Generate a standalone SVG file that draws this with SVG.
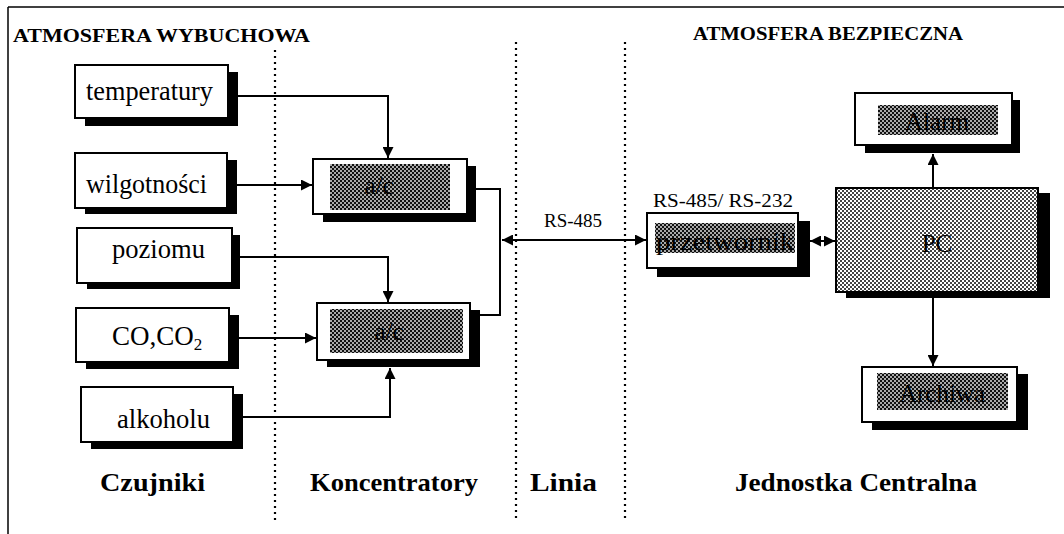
<svg xmlns="http://www.w3.org/2000/svg" width="1064" height="534" viewBox="0 0 1064 534">
<style>
.box{fill:#fff;stroke:#000;stroke-width:2}
.sh{fill:#000}
.lbl{font-family:"Liberation Serif","Times New Roman",serif;font-size:27px;fill:#000}
.hl{font-family:"Liberation Serif","Times New Roman",serif;font-size:25px;fill:#000;text-anchor:middle}
.ttl{font-family:"Liberation Serif","Times New Roman",serif;font-weight:bold;font-size:19px;fill:#000}
.sec{font-family:"Liberation Serif","Times New Roman",serif;font-weight:bold;font-size:25px;fill:#000}
.sm{font-family:"Liberation Serif","Times New Roman",serif;font-size:19px;fill:#000}
.con{fill:none;stroke:#000;stroke-width:2}
.dot{stroke:#000;stroke-width:2.2;stroke-dasharray:2 4}
</style>
<defs>
<pattern id="hd" width="4" height="4" patternUnits="userSpaceOnUse">
<rect width="4" height="4" fill="#aaa"/>
<rect width="2" height="2" fill="#111"/>
<rect x="2" y="2" width="2" height="2" fill="#111"/>
</pattern>
<pattern id="hl" width="4" height="4" patternUnits="userSpaceOnUse">
<rect width="4" height="4" fill="#fff"/>
<rect width="2" height="2" fill="#444"/>
<rect x="2" y="2" width="2" height="2" fill="#444"/>
</pattern>
<marker id="ah" viewBox="0 0 10 10" refX="10" refY="5" markerWidth="11" markerHeight="11" markerUnits="userSpaceOnUse" orient="auto-start-reverse">
<path d="M0,0 L10,5 L0,10 Z" fill="#000"/>
</marker>
</defs>

<g id="frame">
<line x1="8" y1="7" x2="1064" y2="7" stroke="#000" stroke-width="1.5"/>
<line x1="8" y1="7" x2="8" y2="534" stroke="#000" stroke-width="1.5"/>
</g>

<g id="dividers">
<line class="dot" x1="275" y1="50" x2="275" y2="520"/>
<line class="dot" x1="516" y1="42" x2="516" y2="520"/>
<line class="dot" x1="625" y1="42" x2="625" y2="520"/>
</g>

<g id="titles">
<text class="ttl" x="13" y="42" textLength="297" lengthAdjust="spacingAndGlyphs">ATMOSFERA  WYBUCHOWA</text>
<text class="ttl" x="693" y="40" textLength="270" lengthAdjust="spacingAndGlyphs">ATMOSFERA  BEZPIECZNA</text>
<text class="sec" x="100" y="491" textLength="105" lengthAdjust="spacingAndGlyphs">Czujniki</text>
<text class="sec" x="310" y="491" textLength="168" lengthAdjust="spacingAndGlyphs">Koncentratory</text>
<text class="sec" x="530" y="491" textLength="67" lengthAdjust="spacingAndGlyphs">Linia</text>
<text class="sec" x="735" y="491" textLength="242" lengthAdjust="spacingAndGlyphs">Jednostka  Centralna</text>
</g>

<g id="temperatury">
<rect class="sh" x="85" y="72" width="153" height="54"/>
<rect class="box" x="75" y="65" width="153" height="53"/>
<text class="lbl" x="86" y="100" textLength="127" lengthAdjust="spacingAndGlyphs">temperatury</text>
</g>
<g id="wilgotnosci">
<rect class="sh" x="85" y="160" width="152" height="54"/>
<rect class="box" x="75" y="153" width="152" height="55"/>
<text class="lbl" x="86" y="193" textLength="121" lengthAdjust="spacingAndGlyphs">wilgotności</text>
</g>
<g id="poziomu">
<rect class="sh" x="87" y="235" width="153" height="54"/>
<rect class="box" x="77" y="228" width="155" height="55"/>
<text class="lbl" x="112" y="258" textLength="93" lengthAdjust="spacingAndGlyphs">poziomu</text>
</g>
<g id="co">
<rect class="sh" x="86" y="315" width="153" height="54"/>
<rect class="box" x="76" y="308" width="153" height="54"/>
<text class="lbl" x="112" y="345">CO,CO<tspan font-size="17" dy="5">2</tspan></text>
</g>
<g id="alkoholu">
<rect class="sh" x="91" y="394" width="152" height="55"/>
<rect class="box" x="81" y="387" width="152" height="55"/>
<text class="lbl" x="117" y="428" textLength="93" lengthAdjust="spacingAndGlyphs">alkoholu</text>
</g>

<g id="ac1">
<rect class="sh" x="323" y="166" width="153" height="56"/>
<rect class="box" x="313" y="159" width="154" height="55"/>
<rect x="330" y="164" width="120" height="46" fill="url(#hd)"/>
<text class="hl" x="379" y="194">a/c</text>
</g>
<g id="ac2">
<rect class="sh" x="327" y="310" width="153" height="57"/>
<rect class="box" x="317" y="303" width="153" height="57"/>
<rect x="330" y="309" width="133" height="44" fill="url(#hd)"/>
<text class="hl" x="389" y="340">a/c</text>
</g>

<g id="przetwornik">
<text class="sm" x="653" y="207" textLength="140" lengthAdjust="spacingAndGlyphs">RS-485/ RS-232</text>
<rect class="sh" x="657" y="221" width="153" height="56"/>
<rect class="box" x="647" y="213" width="151" height="55"/>
<rect x="655" y="223" width="140" height="30" fill="url(#hd)"/>
<text class="hl" x="725" y="250" textLength="138" lengthAdjust="spacingAndGlyphs">przetwornik</text>
</g>

<g id="alarm">
<rect class="sh" x="865" y="100" width="155" height="53"/>
<rect class="box" x="855" y="93" width="157" height="52"/>
<rect x="878" y="105" width="120" height="30" fill="url(#hd)"/>
<text class="hl" x="937" y="130">Alarm</text>
</g>

<g id="pc">
<rect class="sh" x="846" y="193" width="204" height="105"/>
<rect x="836" y="188" width="202" height="104" fill="url(#hl)" stroke="#000" stroke-width="2"/>
<text class="hl" x="937" y="252" font-size="28">PC</text>
</g>

<g id="archiwa">
<rect class="sh" x="872" y="374" width="156" height="56"/>
<rect class="box" x="862" y="367" width="155" height="55"/>
<rect x="877" y="373" width="131" height="37" fill="url(#hd)"/>
<text class="hl" x="942" y="402">Archiwa</text>
</g>

<g id="connectors">
<path class="con" d="M238,96 H388 V158" marker-end="url(#ah)"/>
<path class="con" d="M237,185 H312" marker-end="url(#ah)"/>
<path class="con" d="M240,257 H388 V302" marker-end="url(#ah)"/>
<path class="con" d="M239,338 H316" marker-end="url(#ah)"/>
<path class="con" d="M243,417 H390 V368" marker-end="url(#ah)"/>
<path class="con" d="M476,189 H500 V315 H480"/>
<path class="con" d="M502,240 H646" marker-start="url(#ah)" marker-end="url(#ah)"/>
<text class="sm" x="573" y="227" text-anchor="middle">RS-485</text>
<path class="con" d="M810,241 H835" marker-start="url(#ah)" marker-end="url(#ah)"/>
<path class="con" d="M933,188 V154" marker-end="url(#ah)"/>
<path class="con" d="M933,298 V366" marker-end="url(#ah)"/>
</g>
</svg>
